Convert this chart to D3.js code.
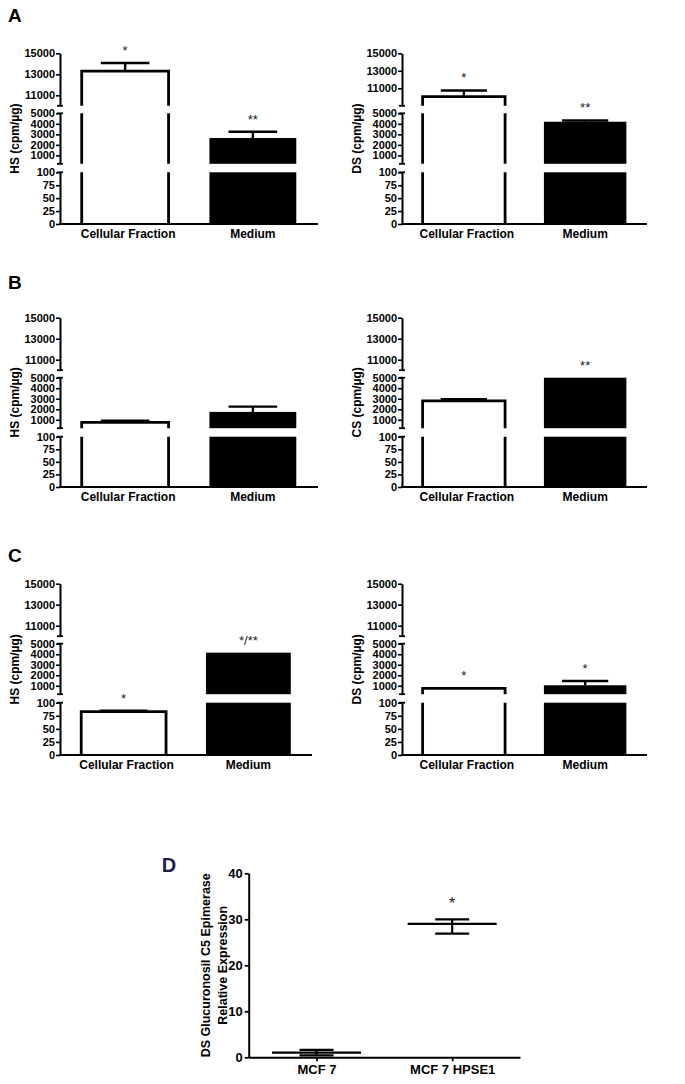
<!DOCTYPE html>
<html lang="en">
<head>
<meta charset="UTF-8">
<title>GAG distribution and epimerase expression</title>
<script src="https://d3js.org/d3.v7.min.js"></script>
<style>
  body { margin: 0; background: #fff; }
  text { font-family: "Liberation Sans", Arial, sans-serif; }
  .tick text { font-weight: bold; fill: #000; }
  .tick line, .domain { stroke: #000; }
</style>
</head>
<body>
<script>
// categories and axis ticks
const groups = ["Cellular Fraction", "Medium"];
const topTicks = [11000, 13000, 15000];
const midTicks = [1000, 2000, 3000, 4000, 5000];
const lowTicks = [0, 25, 50, 75, 100];

// A
const aHS = [13300, 2650], aHSErr = [770, 600], aHSSig = ["*", "**"];
const aDS = [10050, 4200], aDSErr = [700, 120], aDSSig = ["*", "**"];
// B
const bHS = [750, 1750], bHSErr = [170, 500], bHSSig = ["", ""];
const bCS = [2800, 5000], bCSErr = [150, 0], bCSSig = ["", "**"];
// C
const cHS = [83, 4150], cHSErr = [1.5, 0], cHSSig = ["*", "*/**"];
const cDS = [750, 1050], cDSErr = [0, 400], cDSSig = ["*", "*"];

// D
const dGroups = ["MCF 7", "MCF 7 HPSE1"];
const dMean = [1.0, 29.0];
const dLow = [0.4, 26.9];
const dHigh = [1.6, 30.0];
const dTicks = [0, 10, 20, 30, 40];

const width = 685, height = 1084;
const svg = d3.select("body").append("svg")
    .attr("width", width)
    .attr("height", height);

svg.append("rect").attr("width", width).attr("height", height).attr("fill", "#fff");

function brokenPanel(p) {
    const g = svg.append("g");
    const x = d3.scaleBand().domain(groups).range([p.x0, p.x1])
        .paddingInner(0.32).paddingOuter(0.17);
    const bw = x.bandwidth();

    const segs = [
        { dom: p.topDom, r: [p.y15 + 52.5, p.y15], ticks: topTicks },
        { dom: [200, 5000], r: [p.y15 + 110.5, p.y15 + 60], ticks: midTicks },
        { dom: [0, 100], r: [p.y0, p.y15 + 119], ticks: lowTicks }
    ];

    segs.forEach((s, k) => {
        s.y = d3.scaleLinear().domain(s.dom).range(s.r);
        const ax = g.append("g")
            .attr("transform", `translate(${p.x0},0)`)
            .call(d3.axisLeft(s.y).tickValues(s.ticks).tickFormat(d3.format("d"))
                .tickSize(4).tickPadding(1).tickSizeOuter(0));
        ax.selectAll(".tick text").style("font-size", "11px");
        ax.selectAll(".tick line").attr("stroke-width", 1.6);
        ax.select(".domain").attr("stroke-width", 2);
        // break caps at the ends of each segment
        const ends = [];
        if (k > 0) ends.push(s.r[1]);
        if (k < 2) ends.push(s.r[0]);
        ends.forEach(yy => {
            g.append("line")
                .attr("x1", p.x0 - 3).attr("x2", p.x0 + 3)
                .attr("y1", yy).attr("y2", yy)
                .attr("stroke", "#000").attr("stroke-width", 1.8);
        });
    });

    // x axis line
    g.append("line")
        .attr("x1", p.x0 - 1).attr("x2", p.x1)
        .attr("y1", p.y0).attr("y2", p.y0)
        .attr("stroke", "#000").attr("stroke-width", 2.2);

    groups.forEach((name, i) => {
        const v = p.values[i];
        const filled = i === 1;
        const xl = x(name), xr = x(name) + bw;
        segs.forEach((s, k) => {
            const lo = s.dom[0], hi = s.dom[1];
            if (k < 2 && v <= lo) return;
            const top = Math.min(v, hi);
            const yT = s.y(top), yB = s.y(lo);
            if (filled) {
                g.append("rect")
                    .attr("x", xl).attr("y", yT)
                    .attr("width", bw).attr("height", yB - yT)
                    .attr("fill", "#000");
            } else {
                const path = d3.path();
                if (v <= hi) {
                    path.moveTo(xl, yB); path.lineTo(xl, yT);
                    path.lineTo(xr, yT); path.lineTo(xr, yB);
                } else {
                    path.moveTo(xl, yB); path.lineTo(xl, yT);
                    path.moveTo(xr, yT); path.lineTo(xr, yB);
                }
                g.append("path").attr("d", path.toString())
                    .attr("fill", "none").attr("stroke", "#000")
                    .attr("stroke-width", 2.8);
            }
        });

        // error bar (upper only) and significance marks
        const s = segs.find((sg, k) => v > sg.dom[0] || k === 2);
        const e = p.errs[i];
        const cx = x(name) + bw / 2;
        const yv = s.y(v), ye = s.y(v + e);
        if (e > 0) {
            g.append("line").attr("x1", cx).attr("x2", cx)
                .attr("y1", yv).attr("y2", ye)
                .attr("stroke", "#000").attr("stroke-width", 2.4);
            g.append("line").attr("x1", cx - bw * 0.28).attr("x2", cx + bw * 0.28)
                .attr("y1", ye).attr("y2", ye)
                .attr("stroke", "#000").attr("stroke-width", 2.4);
        }
        if (p.sigs[i]) {
            g.append("text")
                .attr("x", cx).attr("y", ye - 8)
                .attr("text-anchor", "middle")
                .style("font-size", "13px")
                .attr("fill", "#222")
                .text(p.sigs[i]);
        }

        g.append("text")
            .attr("x", cx + (i === 0 ? 3 : 0)).attr("y", p.y0 + 14)
            .attr("text-anchor", "middle")
            .style("font-size", "12px").style("font-weight", "bold")
            .text(name);
    });

    // y axis title
    const my = (p.y15 + p.y0) / 2;
    g.append("text")
        .attr("transform", `translate(${p.x0 - 41},${my}) rotate(-90)`)
        .attr("text-anchor", "middle")
        .style("font-size", "12px").style("font-weight", "bold")
        .text(p.label);

    if (p.letter) {
        g.append("text")
            .attr("x", 8).attr("y", p.letterY)
            .style("font-size", "19px").style("font-weight", "bold")
            .text(p.letter);
    }
}

const leftX = [60, 318], rightX = [402, 647];

brokenPanel({ letter: "A", letterY: 21.7, x0: leftX[0], x1: leftX[1], y15: 53.3, y0: 224,
    topDom: [10000, 15000], label: "HS (cpm/µg)", values: aHS, errs: aHSErr, sigs: aHSSig });
brokenPanel({ x0: rightX[0], x1: rightX[1], y15: 53.3, y0: 224,
    topDom: [9000, 15000], label: "DS (cpm/µg)", values: aDS, errs: aDSErr, sigs: aDSSig });

brokenPanel({ letter: "B", letterY: 289, x0: leftX[0], x1: leftX[1], y15: 317.7, y0: 487,
    topDom: [10000, 15000], label: "HS (cpm/µg)", values: bHS, errs: bHSErr, sigs: bHSSig });
brokenPanel({ x0: rightX[0], x1: rightX[1], y15: 317.7, y0: 487,
    topDom: [10000, 15000], label: "CS (cpm/µg)", values: bCS, errs: bCSErr, sigs: bCSSig });

brokenPanel({ letter: "C", letterY: 561.7, x0: leftX[0], x1: 312, y15: 583.7, y0: 755,
    topDom: [10000, 15000], label: "HS (cpm/µg)", values: cHS, errs: cHSErr, sigs: cHSSig });
brokenPanel({ x0: rightX[0], x1: rightX[1], y15: 583.7, y0: 755,
    topDom: [10000, 15000], label: "DS (cpm/µg)", values: cDS, errs: cDSErr, sigs: cDSSig });

// panel D: mean with error bars
const gd = svg.append("g");
const dx = d3.scalePoint().domain(dGroups).range([248.7, 520]).padding(0.5);
const dy = d3.scaleLinear().domain([0, 40]).range([1057.3, 873.3]);

const dyAxis = gd.append("g").attr("transform", "translate(248.7,0)")
    .call(d3.axisLeft(dy).tickValues(dTicks).tickSize(4).tickPadding(2).tickSizeOuter(0));
dyAxis.selectAll(".tick text").style("font-size", "13px");
dyAxis.selectAll(".tick line").attr("stroke-width", 1.8);
dyAxis.select(".domain").attr("stroke-width", 2);

const dxAxis = gd.append("g").attr("transform", "translate(0,1057.3)")
    .call(d3.axisBottom(dx).tickSize(4).tickPadding(3).tickSizeOuter(0));
dxAxis.selectAll(".tick text").style("font-size", "13px");
dxAxis.selectAll(".tick line").attr("stroke-width", 1.8);
dxAxis.select(".domain").attr("stroke-width", 2);

dGroups.forEach((name, i) => {
    const cx = dx(name);
    const line = (x1, x2, y1, y2) => gd.append("line")
        .attr("x1", x1).attr("x2", x2).attr("y1", y1).attr("y2", y2)
        .attr("stroke", "#000").attr("stroke-width", 2.2);
    line(cx - 44.5, cx + 44.5, dy(dMean[i]), dy(dMean[i]));
    line(cx, cx, dy(dLow[i]), dy(dHigh[i]));
    line(cx - 17, cx + 17, dy(dLow[i]), dy(dLow[i]));
    line(cx - 17, cx + 17, dy(dHigh[i]), dy(dHigh[i]));
});

gd.append("text")
    .attr("x", dx(dGroups[1])).attr("y", dy(dHigh[1]) - 10)
    .attr("text-anchor", "middle")
    .style("font-size", "16px").attr("fill", "#222")
    .text("*");

gd.append("text")
    .attr("transform", "translate(209.5,965.3) rotate(-90)")
    .attr("text-anchor", "middle")
    .style("font-size", "12.5px").style("font-weight", "bold")
    .text("DS Glucuronosil C5 Epimerase");
gd.append("text")
    .attr("transform", "translate(227,965.3) rotate(-90)")
    .attr("text-anchor", "middle")
    .style("font-size", "12.5px").style("font-weight", "bold")
    .text("Relative Expression");

gd.append("text")
    .attr("x", 161.7).attr("y", 871.7)
    .style("font-size", "20px").style("font-weight", "bold")
    .attr("fill", "#1d1d4a")
    .text("D");
</script>
</body>
</html>
